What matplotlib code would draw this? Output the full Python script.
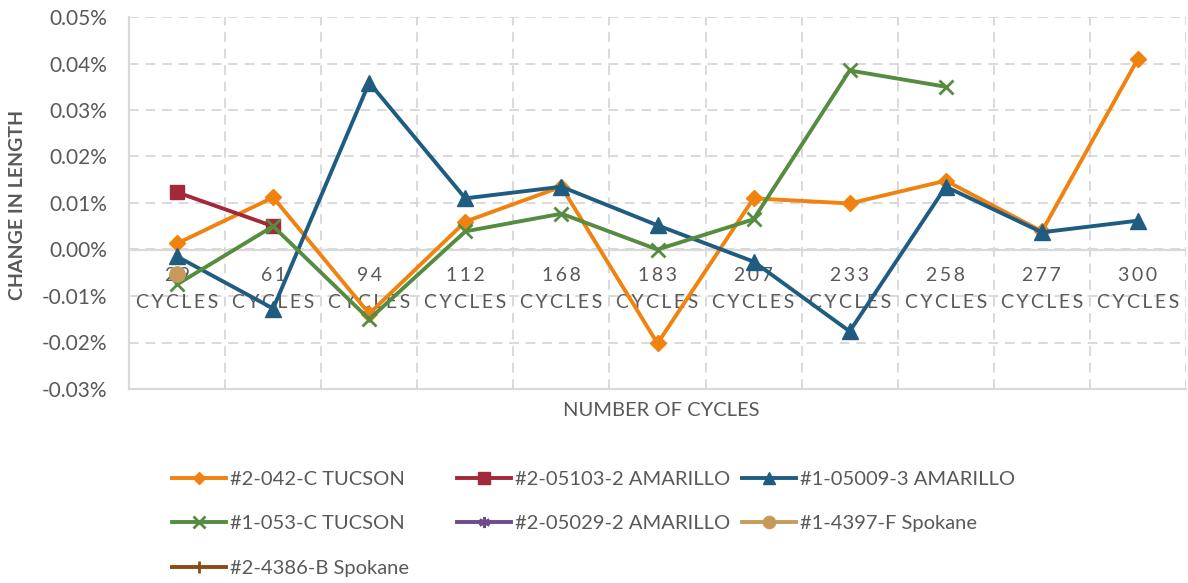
import numpy as np
import matplotlib.pyplot as plt

plt.rcParams['font.family'] = ['Lato', 'DejaVu Sans']

# data (change in length, in percent)
cycles = ['29', '61', '94', '112', '168', '183', '207', '233', '258', '277', '300']
nan = np.nan
tucson_042c = [0.0013, 0.0112, -0.0138, 0.0060, 0.0135, -0.0202, 0.0110, 0.0099, 0.0148, 0.0039, 0.0410]
amarillo_05103 = [0.0123, 0.0050, nan, nan, nan, nan, nan, nan, nan, nan, nan]
amarillo_05009 = [-0.0015, -0.0127, 0.0359, 0.0110, 0.0135, 0.0052, -0.0026, -0.0176, 0.0135, 0.0037, 0.0062]
tucson_053c = [-0.0075, 0.0050, -0.0150, 0.0039, 0.0077, 0.0000, 0.0065, 0.0385, 0.0350, nan, nan]
amarillo_05029 = [nan] * 11
spokane_4397f = [-0.0052, nan, nan, nan, nan, nan, nan, nan, nan, nan, nan]
spokane_4386b = [nan] * 11

series = [
    ('#2-042-C TUCSON', tucson_042c, '#F0820F', 'D', 8),
    ('#2-05103-2 AMARILLO', amarillo_05103, '#A4283A', 's', 10),
    ('#1-05009-3 AMARILLO', amarillo_05009, '#1F5C82', '^', 11),
    ('#1-053-C TUCSON', tucson_053c, '#558C40', 'x', 10),
    ('#2-05029-2 AMARILLO', amarillo_05029, '#6B4C8F', (6, 2, 0), 10),
    ('#1-4397-F Spokane', spokane_4397f, '#C79A5B', 'o', 11),
    ('#2-4386-B Spokane', spokane_4386b, '#8C4A12', '|', 10),
]

grey = '#595959'
gridc = '#D9D9D9'
thin = '\u2009'

fig = plt.figure(figsize=(11.88, 5.83), dpi=100)
ax = fig.add_axes([129 / 1188, 1 - 389 / 583, 1057 / 1188, 372 / 583])

x = np.arange(len(cycles))
handles = []
for name, vals, col, mk, ms in series:
    h, = ax.plot(x, vals, color=col, lw=2.8, marker=mk, markersize=ms,
                 markeredgewidth=2 if mk in ('x', '|', (6, 2, 0)) else 1,
                 markeredgecolor=col, label=name, zorder=3)
    handles.append(h)

ax.set_xlim(-0.5, len(cycles) - 0.5)
ax.set_ylim(-0.03, 0.05)
ax.set_yticks(np.arange(-0.03, 0.0501, 0.01))
ax.set_yticklabels(['%.2f%%' % v for v in np.arange(-0.03, 0.0501, 0.01)])
ax.tick_params(axis='y', length=0, labelsize=15, labelcolor=grey, pad=16)

ax.set_xticks([])
ax.set_xticks(np.arange(-0.5, len(cycles)), minor=True)
ax.tick_params(axis='x', which='both', length=0)

ax.grid(True, axis='y', color=gridc, lw=1.4, ls=(0, (5, 3.5)), zorder=0)
ax.grid(True, axis='x', which='minor', color=gridc, lw=1.4, ls=(0, (5, 3.5)), zorder=0)
ax.axhline(0, color=gridc, lw=1.6, zorder=1)

for s in ['top', 'right']:
    ax.spines[s].set_visible(False)
for s in ['left', 'bottom']:
    ax.spines[s].set_color(gridc)
    ax.spines[s].set_linewidth(1.6)

# category labels hang below the zero line
for i, c in enumerate(cycles):
    ax.annotate(thin.join(c), xy=(i, 0), xytext=(0, -26), textcoords='offset pixels',
                ha='center', va='center', fontsize=14, color=grey, zorder=2)
    ax.annotate(thin.join('CYCLES'), xy=(i, 0), xytext=(0, -53), textcoords='offset pixels',
                ha='center', va='center', fontsize=14, color=grey, zorder=2)

fig.text(18 / 1188, 1 - 205 / 583, 'CHANGE IN LENGTH', rotation=90, ha='center', va='center',
         fontsize=14, fontweight='bold', color=grey)
fig.text(661 / 1188, 1 - 410 / 583, 'NUMBER OF CYCLES', ha='center', va='center',
         fontsize=14.5, color=grey)

# legend laid out row by row in three columns, like the source
columns = [[0, 3, 6], [1, 4], [2, 5]]
col_x = [172, 457, 742]
for idx, cx in zip(columns, col_x):
    fig.legend([handles[i] for i in idx], [series[i][0] for i in idx],
               loc='upper left', bbox_to_anchor=(cx / 1188, 1 - 471 / 583),
               frameon=False, fontsize=14.5, labelcolor=grey, handlelength=2.7,
               handletextpad=0.2, labelspacing=1.35, markerscale=0.8,
               borderaxespad=0, borderpad=0)

fig.savefig('out.png', dpi=100)
